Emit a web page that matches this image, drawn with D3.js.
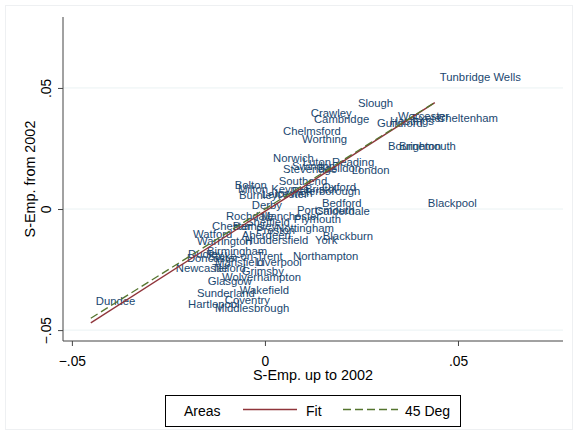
<!DOCTYPE html>
<html>
<head>
<meta charset="utf-8">
<script src="https://cdn.jsdelivr.net/npm/d3@7"></script>
<style>
  body { margin: 0; background: #fff; }
  svg { display: block; }
</style>
</head>
<body>
<svg id="chart"></svg>
<script>
// area names with S-Emp. up to 2002 (x) and from 2002 (y)
const areas = [
  "Tunbridge Wells", "Slough", "Crawley", "Cambridge", "Worcester", "Exeter", "Cheltenham",
  "Guildford", "Hastings", "Chelmsford", "Worthing", "Bournemouth", "Brighton", "Norwich",
  "Luton", "Reading", "Stevenage", "Swindon", "Basildon", "London", "Southend", "Bolton",
  "Milton Keynes", "Oxford", "Bristol", "Peterborough", "Burnley", "Leicester", "Ipswich",
  "Derby", "Portsmouth", "Bedford", "Calderdale", "Rochdale", "Manchester", "Plymouth",
  "Sheffield", "Chester", "Barnsley", "Preston", "Nottingham", "Watford", "Aberdeen",
  "Blackburn", "York", "Huddersfield", "Warrington", "Birmingham", "Dudley", "Doncaster",
  "Stoke-on-Trent", "Northampton", "Liverpool", "Mansfield", "Newcastle", "Telford",
  "Grimsby", "Wolverhampton", "Glasgow", "Wakefield", "Sunderland", "Coventry",
  "Hartlepool", "Middlesbrough", "Dundee", "Blackpool"
];
const empBefore = [
  0.0440, 0.0228, 0.0106, 0.0114, 0.0332, 0.0368, 0.0433,
  0.0277, 0.0311, 0.0034, 0.0083, 0.0306, 0.0334, 0.0008,
  0.0085, 0.0161, 0.0034, 0.0057, 0.0124, 0.0212, 0.0023, -0.0091,
  -0.0083, 0.0135, 0.0091, 0.0057, -0.0080, -0.0021, 0.0013,
  -0.0047, 0.0070, 0.0135, 0.0117, -0.0114, -0.0023, 0.0062,
  -0.0062, -0.0150, -0.0096, -0.0036, 0.0016, -0.0199, -0.0073,
  0.0137, 0.0117, -0.0065, -0.0189, -0.0163, -0.0212, -0.0215,
  -0.0161, 0.0060, -0.0036, -0.0142, -0.0244, -0.0150,
  -0.0073, -0.0124, -0.0161, -0.0078, -0.0189, -0.0117,
  -0.0212, -0.0142, -0.0451, 0.0409
];
const empAfter = [
  0.0545, 0.0438, 0.0397, 0.0372, 0.0384, 0.0376, 0.0376,
  0.0355, 0.0364, 0.0322, 0.0289, 0.0260, 0.0260, 0.0211,
  0.0194, 0.0194, 0.0165, 0.0178, 0.0169, 0.0161, 0.0116, 0.0099,
  0.0083, 0.0091, 0.0083, 0.0074, 0.0058, 0.0062, 0.0066,
  0.0017, -0.0004, 0.0025, -0.0008, -0.0029, -0.0029, -0.0041,
  -0.0054, -0.0070, -0.0070, -0.0087, -0.0079, -0.0103, -0.0107,
  -0.0112, -0.0128, -0.0128, -0.0132, -0.0174, -0.0186, -0.0202,
  -0.0194, -0.0194, -0.0219, -0.0219, -0.0244, -0.0244,
  -0.0256, -0.0281, -0.0298, -0.0335, -0.0347, -0.0376,
  -0.0393, -0.0409, -0.0380, 0.0025
];
const xTicks = [-0.05, 0, 0.05];
const yTicks = [-0.05, 0, 0.05];
const legendItems = ["Areas", "Fit", "45 Deg"];

const width = 578, height = 435;
const margin = {top: 17, right: 15, bottom: 94, left: 63};
const font = "'Liberation Sans', Arial, Helvetica, sans-serif";
const labelColor = "#1a476f";
const fitColor = "#90353b";
const degColor = "#55752f";

const svg = d3.select("#chart")
  .attr("width", width)
  .attr("height", height)
  .style("font-family", font);

svg.append("rect")
  .attr("x", 5.5).attr("y", 5.5)
  .attr("width", width - 11).attr("height", height - 11)
  .attr("fill", "#fff")
  .attr("stroke", "#eef0f2");

// scales: 0.05 ~ 193px horizontally, 121px vertically
const xscale = d3.scaleLinear()
  .domain([-0.0523, 0.0772])
  .range([margin.left, width - margin.right]);
const yscale = d3.scaleLinear()
  .domain([-0.0545, 0.0793])
  .range([height - margin.bottom, margin.top]);
const x0 = margin.left, x1 = width - margin.right;

const pts = areas.map((a, i) => ({name: a, x: empBefore[i], y: empAfter[i]}));

// grid lines
svg.append("g")
  .selectAll("line")
  .data(yTicks)
  .enter().append("line")
  .attr("x1", x0).attr("x2", x1)
  .attr("y1", d => yscale(d)).attr("y2", d => yscale(d))
  .attr("stroke", "#eaf2f3")
  .attr("stroke-width", 1);

// labels (no markers, label at 3 o'clock)
svg.append("g")
  .selectAll("text")
  .data(pts)
  .enter().append("text")
  .attr("x", d => xscale(d.x) + 5)
  .attr("y", d => yscale(d.y))
  .attr("dy", "0.35em")
  .attr("font-size", "11.3px")
  .attr("fill", labelColor)
  .text(d => d.name);

// linear fit over data range
const mx = d3.mean(pts, d => d.x), my = d3.mean(pts, d => d.y);
const slope = d3.sum(pts, d => (d.x - mx) * (d.y - my)) / d3.sum(pts, d => (d.x - mx) ** 2);
const icept = my - slope * mx;
const xr = d3.extent(pts, d => d.x);

const line = d3.line()
  .x(d => xscale(d[0]))
  .y(d => yscale(d[1]));

svg.append("path")
  .attr("d", line(xr.map(v => [v, icept + slope * v])))
  .attr("stroke", fitColor)
  .attr("stroke-width", 1.3)
  .attr("fill", "none");

svg.append("path")
  .attr("d", line(xr.map(v => [v, v])))
  .attr("stroke", degColor)
  .attr("stroke-width", 1.3)
  .attr("stroke-dasharray", "8,4")
  .attr("fill", "none");

// axes
const fmt = d => d === 0 ? "0" : d3.format(".2f")(d).replace("0.", ".");

const gx = svg.append("g")
  .attr("transform", `translate(0, ${height - margin.bottom})`)
  .call(d3.axisBottom(xscale).tickValues(xTicks).tickSize(5).tickFormat(fmt));
gx.select(".domain").attr("d", `M${x0},0H${x1}`).attr("stroke", "#444");
gx.selectAll(".tick line").attr("stroke", "#444");
gx.selectAll(".tick text")
  .attr("fill", "#000")
  .attr("font-family", font)
  .attr("font-size", "13.8px")
  .attr("dy", 0)
  .attr("y", 25);

gx.append("text")
  .attr("fill", "#000")
  .attr("x", (x0 + x1) / 2)
  .attr("y", 39)
  .attr("text-anchor", "middle")
  .attr("font-family", font)
  .attr("font-size", "14.4px")
  .text("S-Emp. up to 2002");

const gy = svg.append("g")
  .attr("transform", `translate(${margin.left}, 0)`)
  .call(d3.axisLeft(yscale).tickValues(yTicks).tickSize(5).tickFormat(fmt));
gy.select(".domain").attr("d", `M0,${margin.top}V${height - margin.bottom}`).attr("stroke", "#444");
gy.selectAll(".tick line").attr("stroke", "#444");
gy.selectAll(".tick text")
  .attr("fill", "#000")
  .attr("font-family", font)
  .attr("font-size", "13.8px")
  .attr("x", 0).attr("dy", 0)
  .attr("text-anchor", "middle")
  .attr("transform", "translate(-12,0) rotate(-90)");

gy.append("text")
  .attr("fill", "#000")
  .attr("text-anchor", "middle")
  .attr("transform", `translate(-28, ${(margin.top + height - margin.bottom) / 2}) rotate(-90)`)
  .attr("font-family", font)
  .attr("font-size", "14.4px")
  .text("S-Emp. from 2002");

// legend
const lg = svg.append("g").attr("transform", "translate(165, 395)");
lg.append("rect")
  .attr("x", 0.5).attr("y", 0.5)
  .attr("width", 295).attr("height", 31)
  .attr("fill", "#fff")
  .attr("stroke", "#000");
lg.append("text").attr("x", 19).attr("y", 21).attr("font-size", "14px").text(legendItems[0]);
lg.append("line").attr("x1", 78).attr("x2", 132).attr("y1", 14.5).attr("y2", 14.5)
  .attr("stroke", fitColor).attr("stroke-width", 1.3);
lg.append("text").attr("x", 141).attr("y", 21).attr("font-size", "14px").text(legendItems[1]);
lg.append("line").attr("x1", 178).attr("x2", 233).attr("y1", 14.5).attr("y2", 14.5)
  .attr("stroke", degColor).attr("stroke-width", 1.3).attr("stroke-dasharray", "8,4");
lg.append("text").attr("x", 240).attr("y", 21).attr("font-size", "14px").text(legendItems[2]);
</script>
</body>
</html>
